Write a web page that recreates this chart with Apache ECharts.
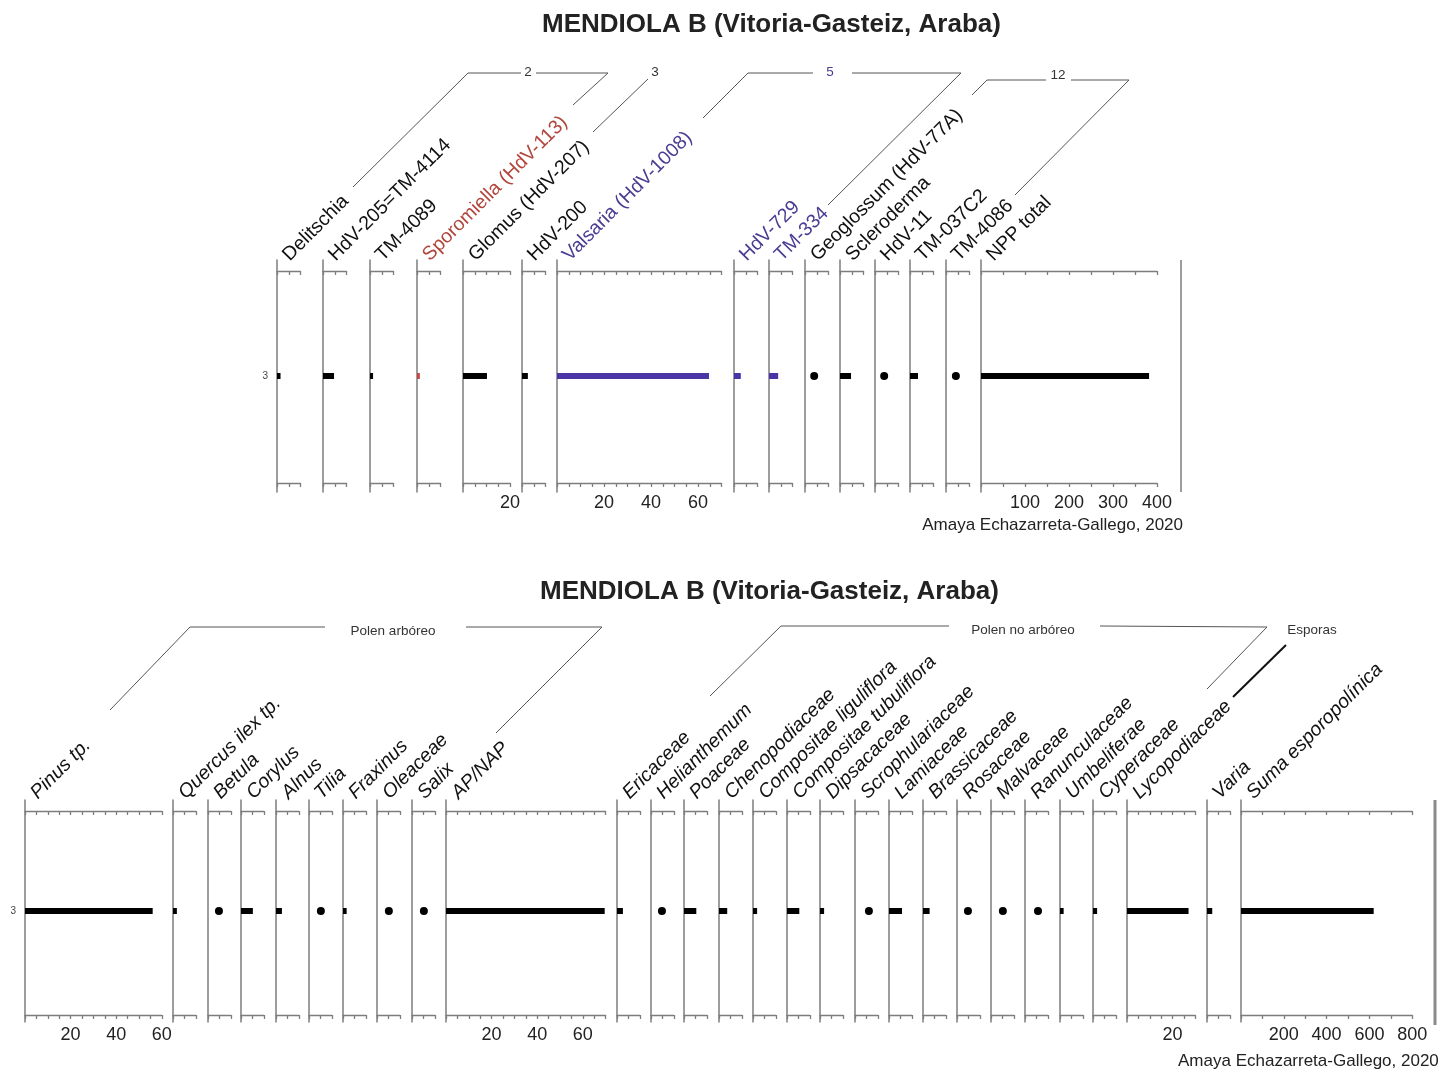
<!DOCTYPE html>
<html>
<head>
<meta charset="utf-8">
<script src="https://cdn.jsdelivr.net/npm/echarts@6/dist/echarts.min.js"></script>
<style>
  html, body { margin: 0; background: #fff; }
  #chart { width: 1438px; height: 1071px; }
</style>
</head>
<body>
<div id="chart"></div>
<script>
// sample (depth) shown on both diagrams
const depths = ['3'];

// upper diagram: non-pollen palynomorphs
const nppNames = ['Delitschia', 'HdV-205=TM-4114', 'TM-4089', 'Sporomiella (HdV-113)', 'Glomus (HdV-207)',
  'HdV-200', 'Valsaria (HdV-1008)', 'HdV-729', 'TM-334', 'Geoglossum (HdV-77A)', 'Scleroderma',
  'HdV-11', 'TM-037C2', 'TM-4086', 'NPP total'];
const nppValues = [1.5, 4.7, 1.3, 1.2, 10.2, 2.5, 64.7, 2.9, 3.9, 3.9, 4.7, 3.9, 3.4, 4.2, 382];
const nppKinds = ['bar', 'bar', 'bar', 'bar', 'bar', 'bar', 'bar', 'bar', 'bar', 'dot', 'bar', 'dot', 'bar', 'dot', 'bar'];
const nppMax = [10, 10, 10, 10, 20, 10, 70, 10, 10, 10, 10, 10, 10, 10, 400];
const nppStep = [5, 5, 5, 5, 5, 5, 5, 5, 5, 5, 5, 5, 5, 5, 50];
const nppTickLabels = [[], [], [], [], [20], [], [20, 40, 60], [], [], [], [], [], [], [], [100, 200, 300, 400]];

// lower diagram: pollen and spores
const polNames = ['Pinus tp.', 'Quercus ilex tp.', 'Betula', 'Corylus', 'Alnus', 'Tilia', 'Fraxinus', 'Oleaceae',
  'Salix', 'AP/NAP', 'Ericaceae', 'Helianthemum', 'Poaceae', 'Chenopodiaceae', 'Compositae liguliflora',
  'Compositae tubuliflora', 'Dipsacaceae', 'Scrophulariaceae', 'Lamiaceae', 'Brassicaceae', 'Rosaceae',
  'Malvaceae', 'Ranunculaceae', 'Umbeliferae', 'Cyperaceae', 'Lycopodiaceae', 'Varia', 'Suma esporopolínica'];
const polValues = [56, 1.7, 4.8, 5.2, 2.6, 5.2, 1.6, 5.2, 5.2, 69.6, 2.6, 4.8, 5.4, 3.6, 1.8, 5.4, 1.8, 6.1,
  5.7, 2.9, 4.8, 5.2, 5.7, 1.6, 1.8, 27, 2.3, 620];
const polKinds = ['bar', 'bar', 'dot', 'bar', 'bar', 'dot', 'bar', 'dot', 'dot', 'bar', 'bar', 'dot', 'bar', 'bar',
  'bar', 'bar', 'bar', 'dot', 'bar', 'bar', 'dot', 'dot', 'dot', 'bar', 'bar', 'bar', 'bar', 'bar'];
const polMax = [60, 10, 10, 10, 10, 10, 10, 10, 10, 70, 10, 10, 10, 10, 10, 10, 10, 10, 10, 10, 10, 10, 10, 10,
  10, 30, 10, 800];
const polStep = [5, 5, 5, 5, 5, 5, 5, 5, 5, 5, 5, 5, 5, 5, 5, 5, 5, 5, 5, 5, 5, 5, 5, 5, 5, 5, 5, 100];
const polTickLabels = [[20, 40, 60], [], [], [], [], [], [], [], [], [20, 40, 60], [], [], [], [], [], [], [], [],
  [], [], [], [], [], [], [], [20], [], [200, 400, 600, 800]];

// layout
const nppLeft = [277, 323, 370, 417, 463, 522, 557, 734, 769, 805, 840, 875, 910, 946, 981];
const nppScale = [2.35, 2.35, 2.35, 2.35, 2.35, 2.35, 2.35, 2.35, 2.35, 2.35, 2.35, 2.35, 2.35, 2.35, 0.44];
const RED = '#b0463c', PURPLE = '#4a3d92', BARPURPLE = '#4b34a6';
const nppLabelColor = ['#111', '#111', '#111', RED, '#111', '#111', PURPLE, PURPLE, PURPLE, '#111', '#111', '#111', '#111', '#111', '#111'];
const nppBarColor = ['#000', '#000', '#000', '#c0493e', '#000', '#000', BARPURPLE, BARPURPLE, BARPURPLE, '#000', '#000', '#000', '#000', '#000', '#000'];
const polLeft = [25, 173, 208, 241, 276, 309, 343, 377, 412, 446, 617, 651, 684, 719, 753, 787, 820, 855, 889,
  923, 957, 991, 1025, 1060, 1093, 1127, 1207, 1241];
const polScale = polMax.map(m => m >= 800 ? 0.214 : 2.28);

const LINE = '#7d7d7d';
const FONT = '"Liberation Sans", Arial, sans-serif';
const NAME_SIZE = 19.5;

const option = {
  backgroundColor: '#fff',
  animation: false,
  title: [
    { text: 'MENDIOLA B (Vitoria-Gasteiz, Araba)', left: 537, top: 7,
      textStyle: { fontFamily: FONT, fontSize: 26, fontWeight: 'bold', color: '#222' } },
    { text: 'MENDIOLA B (Vitoria-Gasteiz, Araba)', left: 535, top: 574,
      textStyle: { fontFamily: FONT, fontSize: 26, fontWeight: 'bold', color: '#222' } }
  ],
  grid: [], xAxis: [], yAxis: [], series: [], graphic: []
};

function addPanel(p) {
  const gi = option.grid.length;
  option.grid.push({ left: p.left, top: p.top, width: p.max * p.scale, height: p.height });
  const lineStyle = { color: LINE, width: 1.3 };
  const base = {
    type: 'value', gridIndex: gi, min: 0, max: p.max, interval: p.step,
    splitLine: { show: false }, axisLine: { show: true, onZero: false, lineStyle: lineStyle }
  };
  const xi = option.xAxis.length;
  option.xAxis.push(Object.assign({}, base, {
    position: 'bottom', offset: -p.offBottom,
    axisTick: { show: true, length: 4, lineStyle: lineStyle },
    axisLabel: {
      margin: 11, fontFamily: FONT, fontSize: 18, color: '#222', showMaxLabel: true, showMinLabel: true,
      formatter: v => p.labels.indexOf(v) >= 0 ? String(v) : ''
    }
  }));
  option.xAxis.push(Object.assign({}, base, {
    position: 'top', offset: -p.offTop,
    axisTick: { show: true, length: 4, inside: true, lineStyle: lineStyle },
    axisLabel: { show: false }
  }));
  option.yAxis.push({
    type: 'category', gridIndex: gi, data: depths, inverse: true,
    axisLine: { show: true, onZero: false, lineStyle: { color: LINE, width: 1.5 } },
    axisTick: { show: false },
    axisLabel: { show: p.first, margin: 9, fontFamily: FONT, fontSize: 10, color: '#444' }
  });
  if (p.kind === 'bar') {
    option.series.push({
      type: 'bar', xAxisIndex: xi, yAxisIndex: gi, barWidth: 6,
      itemStyle: { color: p.color }, data: [p.value]
    });
  } else {
    option.series.push({
      type: 'scatter', xAxisIndex: xi, yAxisIndex: gi, symbol: 'circle', symbolSize: 8,
      itemStyle: { color: p.color, opacity: 1 }, data: [[p.value, depths[0]]]
    });
  }
  option.graphic.push({
    type: 'text', x: p.left + 16, y: p.labelY, rotation: Math.PI / 4,
    style: {
      text: p.name, fill: p.labelColor, font: p.font,
      textAlign: 'left', textVerticalAlign: 'bottom', verticalAlign: 'bottom'
    }
  });
}

nppNames.forEach((name, i) => addPanel({
  name: name, value: nppValues[i], kind: nppKinds[i], max: nppMax[i], step: nppStep[i],
  labels: nppTickLabels[i], left: nppLeft[i], scale: nppScale[i], top: 260, height: 232,
  offTop: 11, offBottom: 9, first: i === 0, color: nppBarColor[i], labelColor: nppLabelColor[i],
  labelY: 265, font: NAME_SIZE + 'px ' + FONT
}));

polNames.forEach((name, i) => addPanel({
  name: name, value: polValues[i], kind: polKinds[i], max: polMax[i], step: polStep[i],
  labels: polTickLabels[i], left: polLeft[i], scale: polScale[i], top: 800, height: 222,
  offTop: 11, offBottom: 7, first: i === 0, color: '#000', labelColor: '#111',
  labelY: 803, font: 'italic ' + NAME_SIZE + 'px ' + FONT
}));

// group brackets and frame lines
function poly(points, color, width) {
  option.graphic.push({ type: 'polyline', shape: { points: points },
    style: { stroke: color || '#555', lineWidth: width || 1, fill: null } });
}
function label(text, x, y, size, color, align) {
  option.graphic.push({ type: 'text', x: x, y: y,
    style: { text: text, fill: color || '#333', font: size + 'px ' + FONT,
      textAlign: align || 'center', textVerticalAlign: 'middle', verticalAlign: 'middle' } });
}
poly([[353, 187], [468, 73], [521, 73]]);
poly([[536, 73], [608, 73], [573, 105]]);
label('2', 528, 72, 13.5);
poly([[648, 79], [593, 132]]);
label('3', 655, 72, 13.5);
poly([[703, 118], [748, 73], [813, 73]]);
poly([[852, 73], [961, 73], [828, 205]]);
label('5', 830, 72, 13.5, PURPLE);
poly([[972, 95], [987, 80], [1046, 80]]);
poly([[1071, 80], [1129, 80], [1015, 195]]);
label('12', 1058, 75, 13.5);
poly([[1181, 260], [1181, 492]], LINE, 1.5);
label('Amaya Echazarreta-Gallego, 2020', 1183, 525, 17, '#222', 'right');

poly([[110, 710], [190, 627], [325, 627]]);
poly([[466, 627], [602, 627], [496, 733]]);
label('Polen arbóreo', 393, 631, 13.5);
poly([[710, 696], [781, 626], [949, 626]]);
poly([[1100, 626], [1267, 627], [1207, 689]]);
label('Polen no arbóreo', 1023, 630, 13.5);
label('Esporas', 1312, 630, 13.5);
poly([[1286, 645], [1233, 697]], '#111', 2);
poly([[1435, 800], [1435, 1025]], '#8a8a8a', 3);
label('Amaya Echazarreta-Gallego, 2020', 1178, 1061, 17, '#222', 'left');

const chart = echarts.init(document.getElementById('chart'));
chart.setOption(option);
</script>
</body>
</html>
